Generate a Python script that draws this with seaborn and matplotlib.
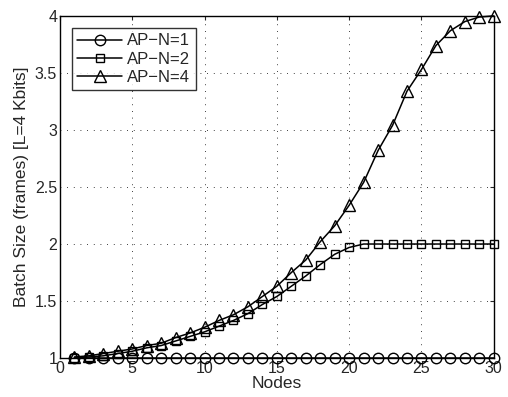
import numpy as np
import pandas as pd
import matplotlib
matplotlib.use("Agg")
import matplotlib.pyplot as plt
import seaborn as sns

nodes = list(range(1, 31))
ap_n1 = [1.0] * 30
ap_n2 = [1.00, 1.01, 1.02, 1.04, 1.06, 1.09, 1.11, 1.15, 1.19, 1.23,
         1.28, 1.33, 1.39, 1.47, 1.54, 1.63, 1.72, 1.82, 1.91, 1.97,
         2.0, 2.0, 2.0, 2.0, 2.0, 2.0, 2.0, 2.0, 2.0, 2.0]
ap_n4 = [1.01, 1.02, 1.04, 1.06, 1.08, 1.11, 1.13, 1.18, 1.22, 1.27,
         1.33, 1.38, 1.45, 1.54, 1.63, 1.75, 1.86, 2.02, 2.16, 2.34,
         2.54, 2.82, 3.04, 3.34, 3.53, 3.74, 3.87, 3.95, 3.99, 4.0]
labels = ["AP\u2212N=1", "AP\u2212N=2", "AP\u2212N=4"]
markers = ["o", "s", "^"]
msizes = [7.5, 6.2, 8.0]

sns.set_style("white")
plt.rcParams['font.family'] = ['Liberation Sans', 'DejaVu Sans']

fig = plt.figure(figsize=(5.08, 3.97), dpi=100)
ax = fig.add_axes([0.118, 0.098, 0.854, 0.862])

for vals, lab, mk, ms in zip([ap_n1, ap_n2, ap_n4], labels, markers, msizes):
    df = pd.DataFrame({"Nodes": nodes, "val": vals})
    sns.lineplot(data=df, x="Nodes", y="val", ax=ax, color="black", lw=1.1,
                 marker=mk, markersize=ms, mfc="none", mec="black", mew=1.0,
                 label=lab, clip_on=False, zorder=3)

ax.set_xlim(0, 30)
ax.set_ylim(1, 4)
ax.set_xticks([0, 5, 10, 15, 20, 25, 30])
ax.set_yticks([1, 1.5, 2, 2.5, 3, 3.5, 4])
ax.set_yticklabels(["1", "1.5", "2", "2.5", "3", "3.5", "4"])
ax.set_xlabel("Nodes", fontsize=12.5, labelpad=0)
ax.set_ylabel("Batch Size (frames) [L=4 Kbits]", fontsize=12.5, labelpad=4)
ax.tick_params(direction="in", top=True, right=True, labelsize=11.5, length=3, pad=2)
ax.grid(True, color="black", linestyle=(0, (1, 7)), linewidth=0.6)
for s in ax.spines.values():
    s.set_color("black")
    s.set_linewidth(1.0)

leg = ax.legend(loc="upper left", fontsize=12, frameon=True, fancybox=False,
                edgecolor="black", handlelength=2.7, borderpad=0.3,
                labelspacing=0.2, handletextpad=0.3, borderaxespad=0.75)
leg.get_frame().set_linewidth(1.0)

fig.savefig("out.png", dpi=100)
